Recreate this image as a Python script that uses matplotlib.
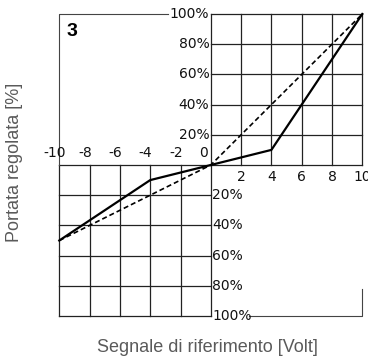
import matplotlib
matplotlib.use("Agg")
import matplotlib.pyplot as plt

# dati
volt_pos = [0, 2, 4, 6, 8, 10]
volt_neg = [-10, -8, -6, -4, -2, 0]
perc_pos = [0, 20, 40, 60, 80, 100]
perc_neg = [-100, -80, -60, -40, -20, 0]
pos_tick_labels = ["2", "4", "6", "8", "10"]
neg_tick_labels = ["-10", "-8", "-6", "-4", "-2", "0"]
top_perc_labels = ["20%", "40%", "60%", "80%", "100%"]
bot_perc_labels = ["20%", "40%", "60%", "80%", "100%"]

solid_x = [-10, -4, 0, 4, 10]
solid_y = [-50, -10, 0, 10, 100]
dashed_x = [-10, 0, 10]
dashed_y = [-50, 0, 100]

fig = plt.figure(figsize=(3.68, 3.58), dpi=100)
ax = fig.add_axes([59.3 / 368, 42 / 358, 303 / 368, 302 / 358])
ax.set_xlim(-10, 10)
ax.set_ylim(-100, 100)
ax.axis("off")

tick_kw = dict(fontsize=10, family="DejaVu Sans", color="#111111")
gc = "#222222"
glw = 0.9

# griglia quadrante superiore destro
for v in volt_pos:
    ax.plot([v, v], [0, 100], color=gc, lw=glw, clip_on=False)
for p in perc_pos:
    ax.plot([0, 10], [p, p], color=gc, lw=glw, clip_on=False)
# griglia quadrante inferiore sinistro
for v in volt_neg:
    ax.plot([v, v], [-100, 0], color=gc, lw=glw, clip_on=False)
for p in perc_neg:
    ax.plot([-10, 0], [p, p], color=gc, lw=glw, clip_on=False)

# cornici
ax.plot([-10, -10, -2.8], [0, 100, 100], color="#444444", lw=0.8, clip_on=False)
ax.plot([2.5, 10, 10], [-100, -100, -82], color="#444444", lw=0.8, clip_on=False)

# curve
ax.plot(solid_x, solid_y, color="black", lw=1.6, clip_on=False)
ax.plot(dashed_x, dashed_y, color="black", lw=1.2, ls=(0, (3, 1.8)), clip_on=False)

# etichette
for v, lab in zip(volt_pos[1:], pos_tick_labels):
    ax.text(v, -3.5, lab, ha="center", va="top", **tick_kw)
for v, lab in zip(volt_neg, neg_tick_labels):
    dx = -0.5 if v == 0 else -0.3
    ax.text(v + dx, 3, lab, ha="center", va="bottom", **tick_kw)
for p, lab in zip(perc_pos[1:], top_perc_labels):
    ax.text(-0.1, p, lab, ha="right", va="center", **tick_kw)
for p, lab in zip(perc_neg[:-1][::-1], bot_perc_labels):
    ax.text(0.1, p, lab, ha="left", va="center", **tick_kw)

fig.text(67 / 368, 1 - 31.5 / 358, "3", fontsize=14, fontweight="bold", family="Liberation Sans",
         va="center", ha="left")

fig.text(15 / 368, 1 - 162 / 358, "Portata regolata [%]", rotation=90, ha="center", va="center",
         fontsize=13, family="Liberation Sans", color="#5a5a5a")
fig.text(207 / 368, 1 - 348 / 358, "Segnale di riferimento [Volt]", ha="center", va="center",
         fontsize=13, family="Liberation Sans", color="#5a5a5a")

fig.savefig("out.png", dpi=100)
